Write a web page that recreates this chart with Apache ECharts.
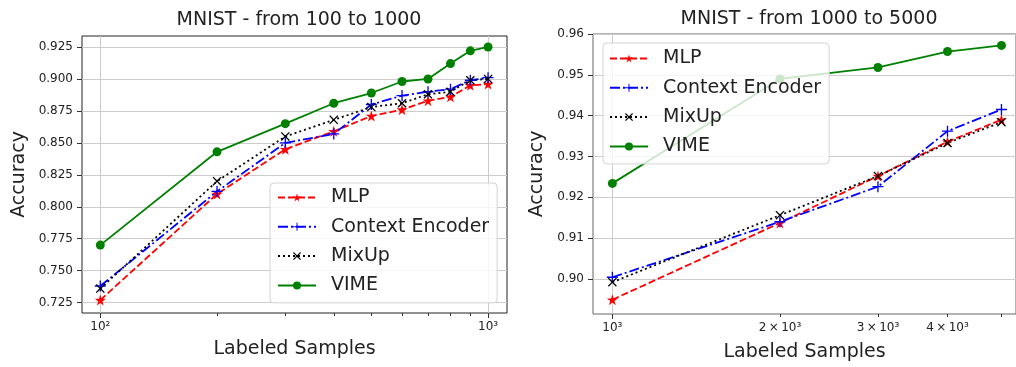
<!DOCTYPE html>
<html>
<head>
<meta charset="utf-8">
<script src="https://cdn.jsdelivr.net/npm/echarts@6/dist/echarts.min.js"></script>
<style>
  html, body { margin: 0; padding: 0; background: #fff; }
  #chart { width: 1016px; height: 367px; }
</style>
</head>
<body>
<div id="chart"></div>
<script>
// left panel: 100 .. 1000 samples
const leftSamples = [100, 200, 300, 400, 500, 600, 700, 800, 900, 1000];
const leftMlp = [0.727, 0.810, 0.845, 0.859, 0.871, 0.876, 0.883, 0.886, 0.895, 0.896];
const leftContext = [0.738, 0.812, 0.850, 0.857, 0.880, 0.887, 0.890, 0.892, 0.899, 0.901];
const leftMixup = [0.736, 0.820, 0.855, 0.868, 0.878, 0.881, 0.888, 0.890, 0.899, 0.900];
const leftVime = [0.770, 0.843, 0.865, 0.881, 0.889, 0.898, 0.900, 0.912, 0.922, 0.925];

// right panel: 1000 .. 5000 samples
const rightSamples = [1000, 2000, 3000, 4000, 5000];
const rightMlp = [0.8949, 0.9137, 0.9252, 0.9336, 0.9390];
const rightContext = [0.9004, 0.9140, 0.9226, 0.9362, 0.9415];
const rightMixup = [0.8992, 0.9156, 0.9252, 0.9333, 0.9384];
const rightVime = [0.9234, 0.9490, 0.9518, 0.9557, 0.9572];

// ticks
const leftMajorX = [100, 1000];
const leftMinorX = [200, 300, 400, 500, 600, 700, 800, 900];
const leftXLabels = { 100: '10²', 1000: '10³' };
const rightMajorX = [1000];
const rightMinorX = [2000, 3000, 4000, 5000];
const rightXLabelValues = [1000, 2000, 3000, 4000];
const rightXLabels = { 1000: '10³', 2000: '2\u2009×\u200910³', 3000: '3\u2009×\u200910³', 4000: '4\u2009×\u200910³' };
const leftYTicks = [0.725, 0.75, 0.775, 0.8, 0.825, 0.85, 0.875, 0.9, 0.925];
const rightYTicks = [0.90, 0.91, 0.92, 0.93, 0.94, 0.95, 0.96];

const names = ['MLP', 'Context Encoder', 'MixUp', 'VIME'];

const FONT = 'DejaVu Sans';
const starPath = 'path://M0,-1L0.2245,-0.309L0.951,-0.309L0.363,0.118L0.588,0.809L0,0.382L-0.588,0.809L-0.363,0.118L-0.951,-0.309L-0.2245,-0.309Z';
const plusPath = 'path://M-1,-0.12L-0.12,-0.12L-0.12,-1L0.12,-1L0.12,-0.12L1,-0.12L1,0.12L0.12,0.12L0.12,1L-0.12,1L-0.12,0.12L-1,0.12Z';
const xPath = 'path://M-1,-0.8L-0.8,-1L0,-0.2L0.8,-1L1,-0.8L0.2,0L1,0.8L0.8,1L0,0.2L-0.8,1L-1,0.8L-0.2,0Z';

const styles = {
  'MLP': { color: '#ff0000', type: [7, 3], symbol: starPath, size: 11 },
  'Context Encoder': { color: '#0000ff', type: [10, 3, 2, 3], symbol: plusPath, size: 11 },
  'MixUp': { color: '#000000', type: [2, 3], symbol: xPath, size: 9 },
  'VIME': { color: '#008000', type: 'solid', symbol: 'circle', size: 9 }
};

function makeSeries(name, xs, ys, axisIdx) {
  const st = styles[name];
  return {
    name: name,
    type: 'line',
    xAxisIndex: axisIdx,
    yAxisIndex: axisIdx === 0 ? 0 : 1,
    data: xs.map((x, i) => [x, ys[i]]),
    symbol: st.symbol,
    symbolSize: st.size,
    showSymbol: true,
    itemStyle: { color: st.color },
    lineStyle: { color: st.color, width: 1.8, type: st.type },
    emphasis: { disabled: true },
    clip: false
  };
}

function majorX(grid, min, max, ticks, labelValues, labels, nameGap) {
  return {
    type: 'log', logBase: 10, gridIndex: grid, min: min, max: max, position: 'bottom',
    name: 'Labeled Samples', nameLocation: 'middle', nameGap: nameGap,
    nameTextStyle: { fontFamily: FONT, fontSize: 19, color: '#222' },
    axisLine: { show: false, onZero: false },
    axisTick: { show: true, length: 5, customValues: ticks, lineStyle: { color: '#333' } },
    axisLabel: {
      customValues: labelValues, margin: 8, fontFamily: FONT, fontSize: 12, color: '#222',
      formatter: v => labels[Math.round(v)] || ''
    },
    splitLine: { show: true, lineStyle: { color: '#cccccc', width: 1 } }
  };
}

function minorX(grid, min, max, ticks) {
  return {
    type: 'log', logBase: 10, gridIndex: grid, min: min, max: max, position: 'bottom',
    axisLine: { show: false, onZero: false },
    axisTick: { show: true, length: 3, customValues: ticks, lineStyle: { color: '#333' } },
    axisLabel: { show: false },
    splitLine: { show: false }
  };
}

function yAxis(grid, min, max, ticks, digits, nameGap) {
  return {
    type: 'value', gridIndex: grid, min: min, max: max,
    name: 'Accuracy', nameLocation: 'middle', nameGap: nameGap,
    nameTextStyle: { fontFamily: FONT, fontSize: 19, color: '#222' },
    axisLine: { show: false },
    axisTick: { show: true, length: 5, customValues: ticks, lineStyle: { color: '#333' } },
    axisLabel: {
      customValues: ticks, margin: 9, fontFamily: FONT, fontSize: 12, color: '#222',
      formatter: v => v.toFixed(digits)
    },
    splitLine: { show: true, lineStyle: { color: '#cccccc', width: 1 } }
  };
}

function legend(left, top, padding) {
  return {
    data: names, orient: 'vertical', left: left, top: top, padding: padding,
    itemWidth: 38, itemHeight: 10, itemGap: 10.3,
    backgroundColor: 'rgba(255,255,255,0.8)', borderColor: '#d4d4d4', borderWidth: 1, borderRadius: 4,
    selectedMode: false,
    textStyle: { fontFamily: FONT, fontSize: 19, color: '#222', padding: [0, 0, 0, 10] }
  };
}

const chart = echarts.init(document.getElementById('chart'), null, { renderer: 'canvas' });
chart.setOption({
  animation: false,
  backgroundColor: '#fff',
  title: [
    { text: 'MNIST - from 100 to 1000', left: 294, top: 6, textAlign: 'center',
      textStyle: { fontFamily: FONT, fontSize: 19, fontWeight: 'normal', color: '#222' } },
    { text: 'MNIST - from 1000 to 5000', left: 804, top: 5, textAlign: 'center',
      textStyle: { fontFamily: FONT, fontSize: 19, fontWeight: 'normal', color: '#222' } }
  ],
  grid: [
    { left: 82, top: 36, width: 425, height: 277, show: true, borderColor: '#222', borderWidth: 1, backgroundColor: 'transparent' },
    { left: 593, top: 34, width: 426, height: 280, show: true, borderColor: '#666', borderWidth: 1, backgroundColor: 'transparent' }
  ],
  xAxis: [
    majorX(0, 89.7, 1119, leftMajorX, leftMajorX, leftXLabels, 27),
    minorX(0, 89.7, 1119, leftMinorX),
    majorX(1, 923, 5310, rightMajorX, rightXLabelValues, rightXLabels, 29),
    minorX(1, 923, 5310, rightMinorX)
  ],
  yAxis: [
    yAxis(0, 0.7169, 0.9336, leftYTicks, 3, 53),
    yAxis(1, 0.8914, 0.96, rightYTicks, 2, 46)
  ],
  legend: [
    legend(270, 183, [5, 8, 8, 7]),
    legend(603, 43, [6, 8, 8, 6])
  ],
  series: [
    makeSeries('MLP', leftSamples, leftMlp, 0),
    makeSeries('Context Encoder', leftSamples, leftContext, 0),
    makeSeries('MixUp', leftSamples, leftMixup, 0),
    makeSeries('VIME', leftSamples, leftVime, 0),
    makeSeries('MLP', rightSamples, rightMlp, 2),
    makeSeries('Context Encoder', rightSamples, rightContext, 2),
    makeSeries('MixUp', rightSamples, rightMixup, 2),
    makeSeries('VIME', rightSamples, rightVime, 2)
  ]
});
</script>
</body>
</html>
